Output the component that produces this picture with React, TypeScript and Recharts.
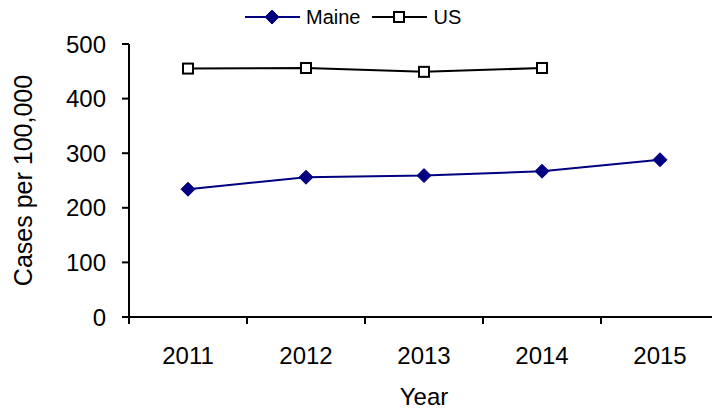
import React from 'react';
import { LineChart, Line, XAxis, YAxis, Legend } from 'recharts';

const categories = ['2011', '2012', '2013', '2014', '2015'];
const maineValues = [234, 256, 259, 267, 288];
const usValues: (number | null)[] = [455, 456, 449, 456, null];
const yTicks = [0, 100, 200, 300, 400, 500];
const seriesNames = ['Maine', 'US'];

const FONT = '"Liberation Sans", Arial, sans-serif';
const MAINE_COLOR = '#000080';
const US_COLOR = '#000000';

const data = categories.map((year, i) => ({
  x: i + 1,
  year,
  Maine: maineValues[i],
  US: usValues[i],
}));

const xTicks: number[] = [];
categories.forEach((_, i) => {
  xTicks.push(i + 0.5);
  xTicks.push(i + 1);
});
xTicks.push(categories.length + 0.5);

const XTick = (props: any) => {
  const { x, y, payload } = props;
  const v = payload.value as number;
  if (Number.isInteger(v)) {
    return (
      <text x={x} y={y + 47} textAnchor="middle" fontSize={24} fill="#000" fontFamily={FONT}>
        {categories[v - 1]}
      </text>
    );
  }
  return <line x1={x} x2={x} y1={y} y2={y + 7} stroke="#000" strokeWidth={2} />;
};

const diamond = (cx: number, cy: number, r: number, key?: string) => (
  <polygon
    key={key}
    points={`${cx},${cy - r} ${cx + r},${cy} ${cx},${cy + r} ${cx - r},${cy}`}
    fill={MAINE_COLOR}
    stroke={MAINE_COLOR}
    strokeWidth={1}
  />
);

const square = (cx: number, cy: number, r: number, key?: string) => (
  <rect key={key} x={cx - r} y={cy - r} width={2 * r} height={2 * r} fill="#fff" stroke={US_COLOR} strokeWidth={2} />
);

const MaineDot = (props: any) => {
  const { cx, cy, index } = props;
  if (cx == null || cy == null) return <g key={`m-${index}`} />;
  return diamond(cx, cy, 7, `m-${index}`);
};

const UsDot = (props: any) => {
  const { cx, cy, index, value } = props;
  if (cx == null || cy == null || value == null) return <g key={`u-${index}`} />;
  return square(cx, cy, 5, `u-${index}`);
};

const LegendContent = () => (
  <div style={{ display: 'flex', alignItems: 'center', height: 34, fontFamily: FONT, fontSize: 20, color: '#000' }}>
    {seriesNames.map((name, i) => (
      <div key={name} style={{ display: 'flex', alignItems: 'center', marginRight: 12 }}>
        <svg width={55} height={20}>
          <line x1={0} x2={55} y1={10} y2={10} stroke={i === 0 ? MAINE_COLOR : US_COLOR} strokeWidth={2} />
          {i === 0 ? diamond(27, 10, 7) : square(27, 10, 5)}
        </svg>
        <span style={{ marginLeft: 6 }}>{name}</span>
      </div>
    ))}
  </div>
);

export default function App() {
  return (
    <div style={{ position: 'absolute', left: 0, top: 0, width: 712, height: 409, overflow: 'hidden', background: '#fff' }}>
      <LineChart width={740} height={409} data={data} margin={{ top: 44, right: 21, bottom: 0, left: 0 }}>
        <XAxis
          dataKey="x"
          type="number"
          domain={[0.5, categories.length + 0.5]}
          ticks={xTicks}
          interval={0}
          tick={<XTick />}
          tickLine={false}
          tickSize={0}
          tickMargin={0}
          height={92}
          axisLine={{ stroke: '#000', strokeWidth: 2 }}
          label={{ value: 'Year', position: 'insideBottom', offset: 4, fontSize: 24, fill: '#000', fontFamily: FONT }}
        />
        <YAxis
          type="number"
          domain={[0, 500]}
          ticks={yTicks}
          interval={0}
          width={129}
          tickSize={7}
          tickMargin={16}
          tick={{ fontSize: 24, fill: '#000', fontFamily: FONT }}
          tickLine={{ stroke: '#000', strokeWidth: 2 }}
          axisLine={{ stroke: '#000', strokeWidth: 2 }}
          label={{
            value: 'Cases per 100,000',
            angle: -90,
            position: 'insideLeft',
            offset: 23,
            fontSize: 25,
            fill: '#000',
            fontFamily: FONT,
            style: { textAnchor: 'middle' },
          }}
        />
        <Legend
          verticalAlign="middle"
          align="center"
          layout="horizontal"
          content={<LegendContent />}
          wrapperStyle={{ top: 0, left: 245, width: 300, height: 34 }}
        />
        <Line
          dataKey="Maine"
          type="linear"
          stroke={MAINE_COLOR}
          strokeWidth={2}
          dot={MaineDot}
          activeDot={false}
          isAnimationActive={false}
        />
        <Line
          dataKey="US"
          type="linear"
          stroke={US_COLOR}
          strokeWidth={2}
          dot={UsDot}
          activeDot={false}
          isAnimationActive={false}
        />
      </LineChart>
    </div>
  );
}
